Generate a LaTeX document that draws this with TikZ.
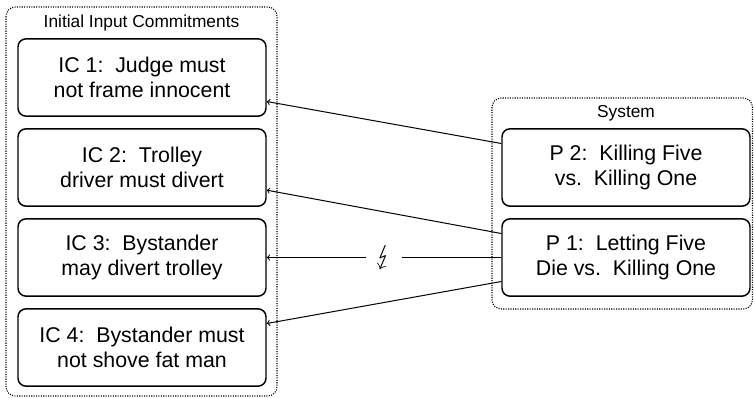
\documentclass[tikz,border=0pt]{standalone}
\usepackage{fontspec}
\usepackage{stmaryrd}
\setmainfont{Liberation Sans}

\tikzset{
  icbox/.style={draw, line width=1.1pt, rounded corners=6pt, minimum width=186pt,
    minimum height=58pt, align=center, font=\fontsize{16}{19.2}\selectfont},
  groupe/.style={draw, densely dotted, line width=0.8pt, rounded corners=7pt},
  titre/.style={anchor=base, font=\fontsize{13}{15.6}\selectfont},
  fleche/.style={->, line width=0.75pt}
}

\begin{document}
\begin{tikzpicture}[x=0.75pt,y=-0.75pt]
\useasboundingbox (0,0) rectangle (754,397);

% Les groupes
\draw[groupe] (6,7) rectangle (277,396);
\draw[groupe] (492,98) rectangle (752.5,309);
\node[titre] (titreIC) at (141.5,27) {Initial Input Commitments};
\node[titre] (titreS) at (626,117) {System};

% Les engagements initiaux
\node[icbox] (IC1) at (142,77.5) {IC 1:\ \ Judge must\\not frame innocent};
\node[icbox] (IC2) at (142,167.5) {IC 2:\ \ Trolley\\driver must divert};
\node[icbox] (IC3) at (142,257.5) {IC 3:\ \ Bystander\\may divert trolley};
\node[icbox] (IC4) at (142,347.5) {IC 4:\ \ Bystander must\\not shove fat man};

% Les principes
\node[icbox] (P2) at (626,167.5) {P 2:\ \ Killing Five\\vs.\ \ Killing One};
\node[icbox] (P1) at (626,257.5) {P 1:\ \ Letting Five\\Die vs.\ \ Killing One};

% Les fleches
\draw[fleche] ([yshift=18pt]P2.west) -- ([yshift=-18pt]IC1.east);
\draw[fleche] ([yshift=18pt]P1.west) -- ([yshift=-17pt]IC2.east);
\draw[fleche] (P1.west) -- node[fill=white, inner xsep=7pt,
  font=\fontsize{21}{24}\selectfont] (eclair) {$\lightning$} (IC3.east);
\draw[fleche] ([yshift=-18pt]P1.west) -- ([yshift=18pt]IC4.east);

\end{tikzpicture}
\end{document}
